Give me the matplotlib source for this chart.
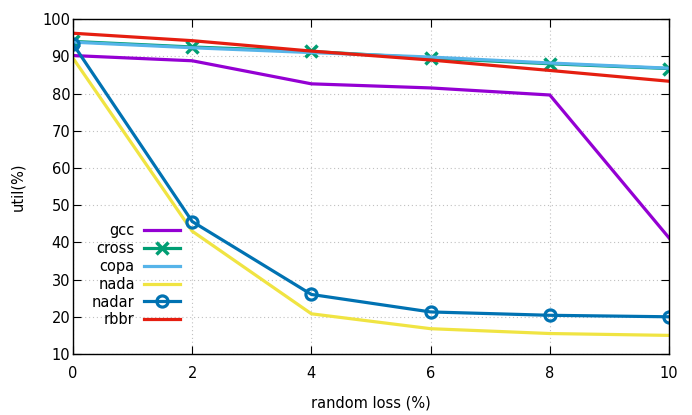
import matplotlib
matplotlib.use("Agg")
import matplotlib.pyplot as plt

x = [0, 2, 4, 6, 8, 10]
gcc = [90.2, 88.8, 82.6, 81.5, 79.6, 41.2]
cross = [94.0, 92.5, 91.3, 89.5, 88.0, 86.7]
copa = [93.8, 92.3, 91.0, 89.8, 88.2, 86.8]
nada = [89.5, 43.0, 20.8, 16.8, 15.5, 15.0]
nadar = [93.3, 45.6, 26.0, 21.3, 20.4, 20.0]
rbbr = [96.2, 94.2, 91.4, 89.0, 86.2, 83.3]

plt.rcParams['font.family'] = ['DejaVu Sans']
fig = plt.figure(figsize=(6.92, 4.15), dpi=100)
ax = fig.add_axes([0.1055, 0.147, 0.8613, 0.807])

lw = 2.3
ax.plot(x, gcc, color='#9400d3', lw=lw, label='gcc')
ax.plot(x, cross, color='#009e73', lw=lw, marker='x', ms=9, mew=2.5, label='cross')
ax.plot(x, copa, color='#56b4e9', lw=lw, label='copa')
ax.plot(x, nada, color='#f0e442', lw=lw, label='nada')
ax.plot(x, nadar, color='#0072b2', lw=lw, marker='o', ms=8, mew=2.3, mfc='none', label='nadar')
ax.plot(x, rbbr, color='#e51e10', lw=lw, label='rbbr')

ax.set_xlim(0, 10)
ax.set_ylim(10, 100)
ax.set_xticks(x)
ax.set_yticks(range(10, 101, 10))
ax.grid(True, color='#c0c0c0', linestyle=(0, (1, 2.5)), lw=0.8)
ax.tick_params(direction='in', top=True, right=True, length=6, labelsize=10.5)
ax.tick_params(axis='x', pad=9)
ax.tick_params(axis='y', pad=2)
for s in ax.spines.values():
    s.set_linewidth(1.0)
ax.set_xlabel('random loss (%)', fontsize=10.5, labelpad=10)
ax.set_ylabel('util(%)', fontsize=10.5, labelpad=12)

leg = ax.legend(loc='lower left', bbox_to_anchor=(0.01, 0.04), frameon=False,
                markerfirst=False, fontsize=10.5, handlelength=2.5,
                labelspacing=0.2, handletextpad=0.6)
for t in leg.get_texts():
    t.set_ha('right')
leg._legend_box.align = 'right'

fig.savefig('out.png', dpi=100)
